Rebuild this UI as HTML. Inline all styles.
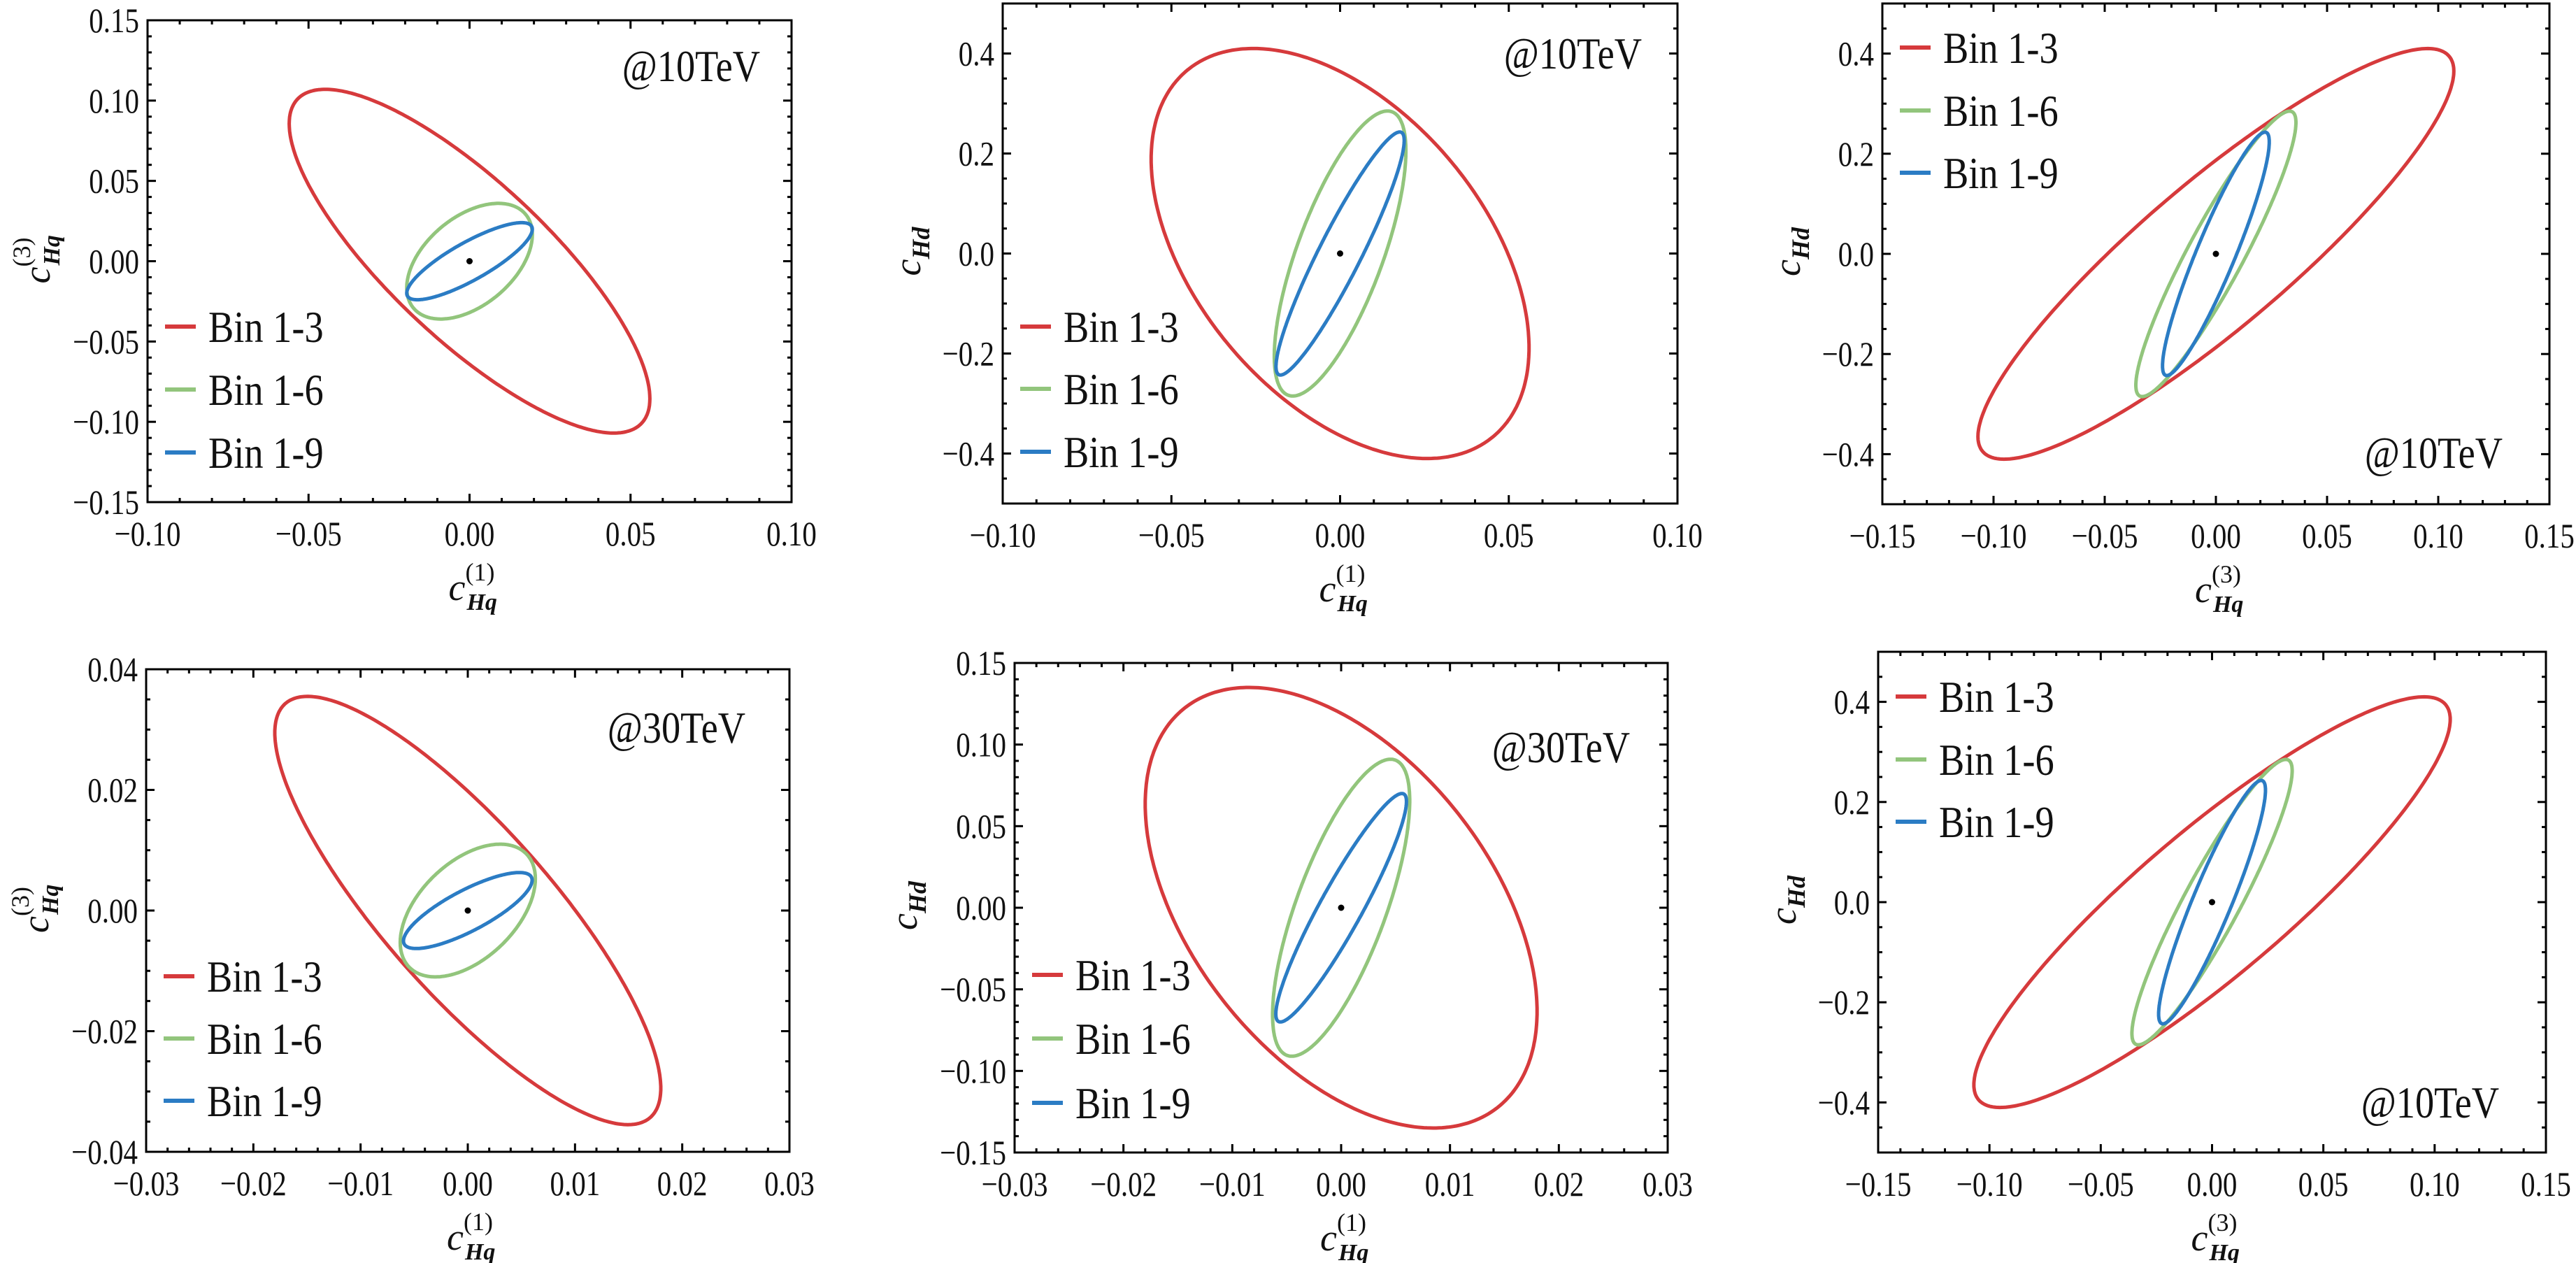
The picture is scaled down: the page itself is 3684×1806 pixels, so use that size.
<!DOCTYPE html>
<html><head><meta charset="utf-8">
<style>
html,body{margin:0;padding:0;background:#fff;}
svg{display:block;}
text{font-family:"Liberation Serif","DejaVu Serif",serif;fill:#111;}
</style></head>
<body>
<svg id="s" width="3684" height="1806" xmlns="http://www.w3.org/2000/svg"></svg>
<script>
const S=document.getElementById('s');
let out='';
const RED='#d63a3c',GRN='#92c57c',BLU='#2b7cc4';
function fmt(v,d){let s=Math.abs(v).toFixed(d);if(v< -1e-9)s='\u2212'+s;return s;}
function txt(x,y,s,fs,anchor,sc){return `<text transform="translate(${x},${y}) scale(${sc},1)" font-size="${fs}" text-anchor="${anchor}">${s}</text>`;}
function panel(c){
 const [L,T,R,B]=c.f;
 const sx=v=>L+(v-c.x[0])/(c.x[1]-c.x[0])*(R-L);
 const sy=v=>B-(v-c.y[0])/(c.y[1]-c.y[0])*(B-T);
 const ticks=(lo,hi,mi,ma,fn)=>{const n=Math.round((hi-lo)/mi);for(let i=0;i<=n;i++){const v=lo+i*mi;const maj=Math.abs(v/ma-Math.round(v/ma))<1e-6;fn(v,maj);}};
 ticks(c.x[0],c.x[1],c.xm,c.xM,(v,maj)=>{const X=sx(v),l=maj?12:6;
   out+=`<line x1="${X}" y1="${B}" x2="${X}" y2="${B-l}" stroke="#000" stroke-width="3"/>`;
   out+=`<line x1="${X}" y1="${T}" x2="${X}" y2="${T+l}" stroke="#000" stroke-width="3"/>`;
   if(maj) out+=txt(X,B+62,fmt(v,c.xd),50,'middle',0.82);});
 ticks(c.y[0],c.y[1],c.ym,c.yM,(v,maj)=>{const Y=sy(v),l=maj?12:6;
   out+=`<line x1="${L}" y1="${Y}" x2="${L+l}" y2="${Y}" stroke="#000" stroke-width="3"/>`;
   out+=`<line x1="${R}" y1="${Y}" x2="${R-l}" y2="${Y}" stroke="#000" stroke-width="3"/>`;
   if(maj && c.ylab(v)) out+=txt(L-12,Y+17,fmt(v,c.yd),50,'end',0.82);});
 out+=`<rect x="${L}" y="${T}" width="${R-L}" height="${B-T}" fill="none" stroke="#000" stroke-width="3"/>`;
 const ell=(X,Y,r,col)=>{let p='';const q=Math.sqrt(1-r*r);for(let i=0;i<=360;i++){const t=i*Math.PI/180;const x=X*Math.cos(t),y=Y*(r*Math.cos(t)+q*Math.sin(t));p+=(i?'L':'M')+sx(x).toFixed(1)+' '+sy(y).toFixed(1);}
   out+=`<path d="${p}Z" fill="none" stroke="${col}" stroke-width="5" stroke-linejoin="round"/>`;};
 ell(...c.r,RED);ell(...c.g,GRN);ell(...c.b,BLU);
 out+=`<circle cx="${sx(0)}" cy="${sy(0)}" r="4.5" fill="#000"/>`;
 const names=['Bin 1-3','Bin 1-6','Bin 1-9'],cols=[RED,GRN,BLU];
 c.leg.forEach((y,i)=>{out+=`<line x1="${L+25}" y1="${y}" x2="${L+69}" y2="${y}" stroke="${cols[i]}" stroke-width="6"/>`;
   out+=txt(L+87,y+22,names[i],64,'start',0.85);});
 out+=txt(c.at[0],c.at[1]+22,c.at[2],64,'end',0.85);
 const lab=(sup,sub)=>`<tspan font-style="italic" font-size="54">c</tspan>`+
   (sup?`<tspan font-size="36" dy="-28">${sup}</tspan><tspan font-size="34" font-style="italic" font-weight="bold" dx="-${sup.length*12+4}" dy="42">${sub}</tspan>`
       :`<tspan font-size="36" font-style="italic" font-weight="bold" dy="13">${sub}</tspan>`);
 const cx=(L+R)/2;
 out+=`<text x="${cx-30}" y="${B+140}" font-size="54">${lab(c.xl,'Hq')}</text>`;
 const yx=L-c.yo,yy=(T+B)/2;
 out+=`<text transform="translate(${yx},${yy+32}) rotate(-90)" font-size="54">${lab(c.yl,c.yl?'Hq':'Hd')}</text>`;
}
const all=()=>true, no5=v=>Math.abs(Math.abs(v)-0.5)>1e-6;
panel({f:[211,29,1132,718],x:[-0.1,0.1],xm:0.01,xM:0.05,xd:2,y:[-0.15,0.15],ym:0.01,yM:0.05,yd:2,ylab:all,
 r:[0.056,0.107,-0.8],g:[0.0195,0.036,0.46],b:[0.0195,0.024,0.83],leg:[467,557,647],at:[1087,94,'@10TeV'],xl:'(1)',yl:'(3)',yo:140});
panel({f:[1434,5,2399,720],x:[-0.1,0.1],xm:0.01,xM:0.05,xd:2,y:[-0.5,0.5],ym:0.05,yM:0.2,yd:1,ylab:no5,
 r:[0.056,0.41,-0.46],g:[0.0195,0.285,0.72],b:[0.019,0.243,0.93],leg:[467,556,646],at:[2348,76,'@10TeV'],xl:'(1)',yl:null,yo:118});
panel({f:[2692,5,3646,721],x:[-0.15,0.15],xm:0.01,xM:0.05,xd:2,y:[-0.5,0.5],ym:0.05,yM:0.2,yd:1,ylab:no5,
 r:[0.107,0.41,0.89],g:[0.036,0.285,0.92],b:[0.024,0.243,0.92],leg:[68,158,247],at:[3579,647,'@10TeV'],xl:'(3)',yl:null,yo:118});
panel({f:[209,957,1129,1647],x:[-0.03,0.03],xm:0.002,xM:0.01,xd:2,y:[-0.04,0.04],ym:0.005,yM:0.02,yd:2,ylab:all,
 r:[0.018,0.0355,-0.83],g:[0.0063,0.011,0.48],b:[0.006,0.0063,0.8],leg:[1396,1485,1574],at:[1066,1040,'@30TeV'],xl:'(1)',yl:'(3)',yo:140});
panel({f:[1451,948,2385,1648],x:[-0.03,0.03],xm:0.002,xM:0.01,xd:2,y:[-0.15,0.15],ym:0.01,yM:0.05,yd:2,ylab:all,
 r:[0.018,0.135,-0.47],g:[0.0063,0.091,0.72],b:[0.006,0.07,0.93],leg:[1394,1485,1577],at:[2331,1068,'@30TeV'],xl:'(1)',yl:null,yo:140});
panel({f:[2686,932,3641,1648],x:[-0.15,0.15],xm:0.01,xM:0.05,xd:2,y:[-0.5,0.5],ym:0.05,yM:0.2,yd:1,ylab:no5,
 r:[0.107,0.41,0.89],g:[0.036,0.285,0.92],b:[0.024,0.243,0.92],leg:[996,1086,1175],at:[3574,1576,'@10TeV'],xl:'(3)',yl:null,yo:118});
S.innerHTML=out;
</script>
</body></html>
